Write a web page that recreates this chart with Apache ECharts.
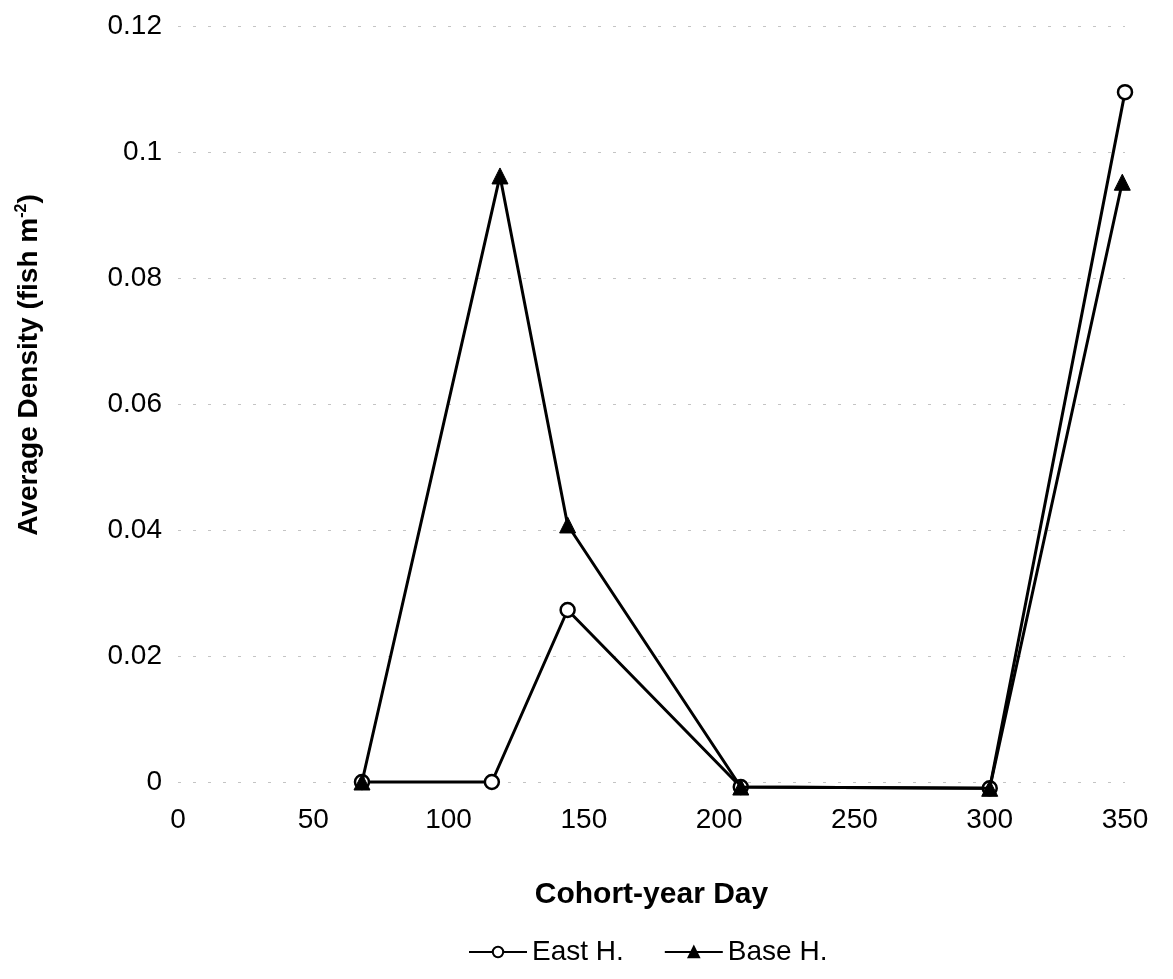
<!DOCTYPE html>
<html>
<head>
<meta charset="utf-8">
<script src="https://cdn.jsdelivr.net/npm/echarts@6/dist/echarts.min.js"></script>
<style>
html,body{margin:0;padding:0;background:#fff;}
#chart{width:1173px;height:979px;}
</style>
</head>
<body>
<div id="chart"></div>
<script>
// Data
const eastDays = [68, 116, 144, 208, 300, 350];
const eastDensity = [0, 0, 0.0273, -0.0008, -0.001, 0.1095];
const baseDays = [68, 119, 144, 208, 300, 349];
const baseDensity = [0, 0.0962, 0.0408, -0.0008, -0.001, 0.0952];
const seriesNames = ['East H.', 'Base H.'];

const FONT = '"Liberation Sans", Arial, sans-serif';
const chart = echarts.init(document.getElementById('chart'), null, {renderer: 'canvas'});

const pairs = (xs, ys) => xs.map((x, i) => [x, ys[i]]);

chart.setOption({
  backgroundColor: '#ffffff',
  animation: false,
  grid: {left: 178, right: 48, top: 26, bottom: 197, containLabel: false},
  xAxis: {
    type: 'value', min: 0, max: 350, interval: 50,
    name: 'Cohort-year Day', nameLocation: 'middle', nameGap: 98,
    nameTextStyle: {fontFamily: FONT, fontSize: 30, fontWeight: 'bold', color: '#000'},
    axisLine: {show: false}, axisTick: {show: false},
    axisLabel: {fontFamily: FONT, fontSize: 28, color: '#000', margin: 24},
    splitLine: {show: false}
  },
  yAxis: {
    type: 'value', min: 0, max: 0.12, interval: 0.02,
    name: 'Average Density (fish m{sup|-2})', nameLocation: 'middle', nameGap: 134,
    nameTextStyle: {
      fontFamily: FONT, fontSize: 28, fontWeight: 'bold', color: '#000',
      padding: [0, 0, 0, 78],
      rich: {sup: {fontFamily: FONT, fontSize: 16, fontWeight: 'bold', color: '#000', verticalAlign: 'top', padding: [0, 0, 14, 0]}}
    },
    axisLine: {show: false}, axisTick: {show: false},
    axisLabel: {fontFamily: FONT, fontSize: 28, color: '#000', margin: 16},
    splitLine: {show: true, lineStyle: {color: '#c4c4c4', width: 1, type: [3, 12]}}
  },
  legend: {
    bottom: 8, left: 463, itemGap: 40, itemWidth: 58, itemHeight: 13,
    textStyle: {fontFamily: FONT, fontSize: 28, color: '#000'},
    data: seriesNames
  },
  series: [
    {
      name: seriesNames[0], type: 'line', clip: false,
      data: pairs(eastDays, eastDensity),
      symbol: 'circle', symbolSize: 14,
      lineStyle: {color: '#000', width: 3},
      itemStyle: {color: '#fff', borderColor: '#000', borderWidth: 2.5},
      z: 2
    },
    {
      name: seriesNames[1], type: 'line', clip: false,
      data: pairs(baseDays, baseDensity),
      symbol: 'triangle', symbolSize: 16,
      lineStyle: {color: '#000', width: 3},
      itemStyle: {color: '#000', borderColor: '#000', borderWidth: 1},
      z: 3
    }
  ]
});
</script>
</body>
</html>
